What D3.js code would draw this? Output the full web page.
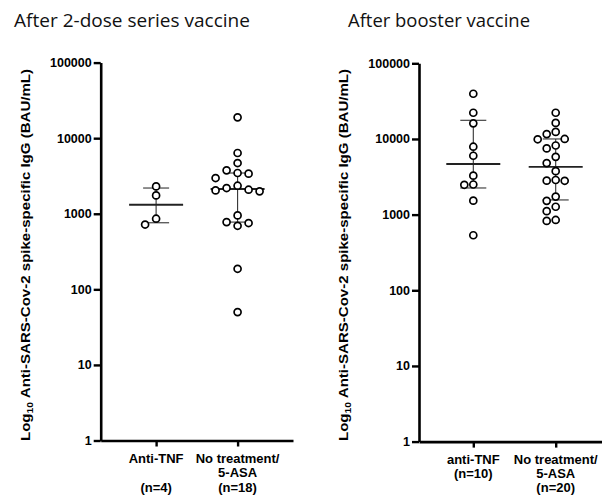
<!DOCTYPE html>
<html>
<head>
<meta charset="utf-8">
<script src="https://cdn.jsdelivr.net/npm/d3@7"></script>
<style>
  body { margin: 0; background: #fff; }
  svg { display: block; }
  .tick text { font-family: "Liberation Sans", Arial, sans-serif; font-weight: bold; font-size: 12.5px; fill: #000; }
</style>
</head>
<body>
<div id="chart"></div>
<script>
// ---- data ----
const yTicks = [1, 10, 100, 1000, 10000, 100000];

const dose2Categories = ["Anti-TNF", "No treatment/5-ASA"];
const dose2Labels = [["Anti-TNF", "", "(n=4)"], ["No treatment/", "5-ASA", "(n=18)"]];
const dose2AntiTNF = [2300, 1750, 860, 720];
const dose2NoTreatment = [18850, 6370, 4690, 3750, 3460, 3390, 2970, 2350, 2190, 2080, 2035, 1980, 950, 776, 754, 693, 187, 50];
const dose2Mean = [1315, 2125];
const dose2Lower = [760, 776];
const dose2Upper = [2190, 3460];

const boosterCategories = ["anti-TNF", "No treatment/5-ASA"];
const boosterLabels = [["anti-TNF", "(n=10)"], ["No treatment/", "5-ASA", "(n=20)"]];
const boosterAntiTNF = [39600, 22200, 16100, 7900, 6000, 3270, 2500, 2480, 1530, 534];
const boosterNoTreatment = [22200, 16300, 12400, 11600, 10000, 9900, 8200, 7500, 5800, 4800, 3750, 2870, 2810, 2800, 1730, 1520, 1270, 1110, 850, 825];
const boosterMean = [4670, 4265];
const boosterLower = [2250, 1563];
const boosterUpper = [17650, 10000];

const width = 602, height = 496;
const svg = d3.select("#chart").append("svg")
    .attr("width", width)
    .attr("height", height);

// simple beeswarm: columns of fixed step, nearest free column wins
function swarm(values, y, step, minDist) {
    const placed = [];
    const sorted = values.map((v, i) => ({ v, i })).sort((a, b) => b.v - a.v);
    sorted.forEach(d => {
        const py = y(d.v);
        for (let k = 0; k < 20; k++) {
            const off = k === 0 ? 0 : (k % 2 ? -1 : 1) * Math.ceil(k / 2) * step;
            const hit = placed.some(p => Math.hypot(p.dx - off, p.py - py) < minDist);
            if (!hit) { placed.push({ v: d.v, dx: off, py }); break; }
        }
    });
    return placed;
}

function drawPanel(cfg) {
    const g = svg.append("g");

    const y = d3.scaleLog().domain([1, 100000]).range([cfg.bottom, cfg.top]);
    const x = d3.scalePoint().domain(cfg.categories).range([cfg.left, cfg.right]).padding(cfg.pad);

    // title
    g.append("text")
        .attr("x", cfg.titleX).attr("y", 27)
        .attr("textLength", cfg.titleLen)
        .attr("lengthAdjust", "spacingAndGlyphs")
        .style("font-family", "'Open Sans', sans-serif")
        .style("font-size", "17.5px")
        .style("fill", "#111")
        .text(cfg.title);

    // y label
    const lab = g.append("text")
        .attr("transform", `translate(${cfg.labelX},255) rotate(-90)`)
        .attr("text-anchor", "middle")
        .attr("textLength", 372)
        .attr("lengthAdjust", "spacingAndGlyphs")
        .style("font-family", "'Liberation Sans', Arial, sans-serif")
        .style("font-weight", "bold")
        .style("font-size", "13px");
    lab.append("tspan").text("Log");
    lab.append("tspan").attr("dy", 3).style("font-size", "9px").text("10");
    lab.append("tspan").attr("dy", -3).text(" Anti-SARS-Cov-2 spike-specific IgG (BAU/mL)");

    // axes
    const yAxis = g.append("g")
        .attr("transform", `translate(${cfg.left},0)`)
        .call(d3.axisLeft(y).tickValues(yTicks).tickFormat(d3.format("d")).tickSize(7).tickSizeOuter(0).tickPadding(2));
    const xAxis = g.append("g")
        .attr("transform", `translate(0,${cfg.bottom})`)
        .call(d3.axisBottom(x).tickSize(6).tickSizeOuter(0).tickFormat(""));
    [yAxis, xAxis].forEach(a => {
        a.select(".domain").attr("stroke", "#000").attr("stroke-width", 2.6);
        a.selectAll(".tick line").attr("stroke", "#000").attr("stroke-width", 2.4);
    });

    // category labels
    cfg.categories.forEach((c, i) => {
        const t = g.append("text")
            .attr("text-anchor", "middle")
            .style("font-family", "'Liberation Sans', Arial, sans-serif")
            .style("font-weight", "bold")
            .style("font-size", "13px");
        cfg.labels[i].forEach((line, j) => {
            t.append("tspan")
                .attr("x", x(c))
                .attr("y", cfg.bottom + 22 + j * cfg.lineH)
                .text(line);
        });
    });

    // error bars and mean
    cfg.categories.forEach((c, i) => {
        const cx = x(c);
        g.append("line")
            .attr("x1", cx).attr("x2", cx)
            .attr("y1", y(cfg.lower[i])).attr("y2", y(cfg.upper[i]))
            .attr("stroke", "#333").attr("stroke-width", 1.1);
        [cfg.lower[i], cfg.upper[i]].forEach(v => {
            g.append("line")
                .attr("x1", cx - 13).attr("x2", cx + 13)
                .attr("y1", y(v)).attr("y2", y(v))
                .attr("stroke", "#333").attr("stroke-width", 1.1);
        });
        g.append("line")
            .attr("x1", cx - 27).attr("x2", cx + 27)
            .attr("y1", y(cfg.mean[i])).attr("y2", y(cfg.mean[i]))
            .attr("stroke", "#222").attr("stroke-width", 1.8);
    });

    // points
    cfg.series.forEach((vals, i) => {
        const cx = x(cfg.categories[i]);
        g.selectAll(null)
            .data(swarm(vals, y, cfg.step, 8.4))
            .enter()
            .append("circle")
            .attr("cx", d => cx + d.dx)
            .attr("cy", d => d.py)
            .attr("r", 3.5)
            .attr("fill", "#fff")
            .attr("stroke", "#000")
            .attr("stroke-width", 1.7);
    });
}

drawPanel({
    title: "After 2-dose series vaccine", titleX: 14, titleLen: 236,
    labelX: 30, left: 100.7, right: 293, pad: 0.68, top: 62.6, bottom: 440.5,
    categories: dose2Categories, labels: dose2Labels, lineH: 14.5,
    series: [dose2AntiTNF, dose2NoTreatment],
    mean: dose2Mean, lower: dose2Lower, upper: dose2Upper, step: 11
});

drawPanel({
    title: "After booster vaccine", titleX: 348, titleLen: 182,
    labelX: 348, left: 419, right: 610, pad: 0.659, top: 63.3, bottom: 441.6,
    categories: boosterCategories, labels: boosterLabels, lineH: 14,
    series: [boosterAntiTNF, boosterNoTreatment],
    mean: boosterMean, lower: boosterLower, upper: boosterUpper, step: 9
});
</script>
</body>
</html>
